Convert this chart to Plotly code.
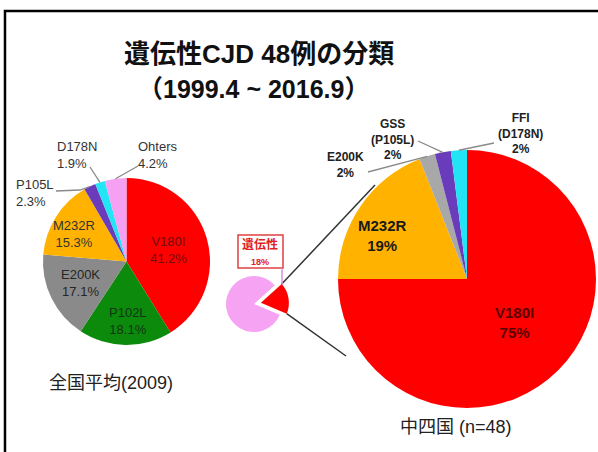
import math
import plotly.graph_objects as go

W, H = 598, 452

# 全国平均(2009)
nat_labels = ["V180I", "P102L", "E200K", "M232R", "P105L", "D178N", "Ohters"]
nat_values = [41.2, 18.1, 17.1, 15.3, 2.3, 1.9, 4.2]
nat_colors = ["#ff0000", "#0b8a0b", "#8a8a8a", "#ffb300", "#6a3cbc", "#22e4f4", "#f5a0f2"]

# 中四国 (n=48)
reg_labels = ["V180I", "M232R", "E200K", "GSS<br>(P105L)", "FFI<br>(D178N)"]
reg_values = [75, 19, 2, 2, 2]
reg_colors = ["#ff0000", "#ffb300", "#a8a8a8", "#6a3cbc", "#22e4f4"]

# share of hereditary cases
her_labels = ["遺伝性", "その他"]
her_values = [18, 82]
her_colors = ["#ff0000", "#f5a3f2"]

FONT = "Liberation Sans, Arial, Noto Sans CJK JP, sans-serif"


def px(x):
    return x / W


def py(y):
    return 1 - y / H


def box(cx, cy, r):
    return dict(x=[px(cx - r), px(cx + r)], y=[py(cy + r), py(cy - r)])


def edge(cx, cy, r, values, i, rot=0):
    # point on the rim in the middle of slice i (clockwise from 12 o'clock)
    tot = sum(values)
    a = rot + 360 * (sum(values[:i]) + values[i] / 2) / tot
    t = math.radians(a)
    return cx + r * math.sin(t), cy - r * math.cos(t)


L = (126.5, 261.5, 83.5)
R = (467, 279, 129)
S = (254, 304, 28)
pull = 0.25
srot = 48

fig = go.Figure()
fig.add_trace(go.Pie(labels=nat_labels, values=nat_values, sort=False, direction="clockwise",
                     rotation=0, marker=dict(colors=nat_colors), textinfo="none",
                     hoverinfo="skip", domain=box(*L)))
fig.add_trace(go.Pie(labels=reg_labels, values=reg_values, sort=False, direction="clockwise",
                     rotation=0, marker=dict(colors=reg_colors), textinfo="none",
                     hoverinfo="skip", domain=box(*R)))
fig.add_trace(go.Pie(labels=her_labels, values=her_values, sort=False, direction="clockwise",
                     rotation=srot, pull=[pull, 0], marker=dict(colors=her_colors),
                     textinfo="none", hoverinfo="skip",
                     domain=box(S[0], S[1], S[2] * (1 + pull))))

ann = []


def text(x, y, s, size=12, color="#333", bold=False, align="center"):
    if bold:
        s = "<b>" + s + "</b>"
    ann.append(dict(x=px(x), y=py(y), xref="paper", yref="paper", text=s, showarrow=False,
                    xanchor="center", yanchor="middle", align=align,
                    font=dict(size=size, color=color, family=FONT)))


def pct(v, d=1):
    return f"{v:.{d}f}%"


# left pie labels
text(168, 250, nat_labels[0] + "<br>" + pct(nat_values[0]), 13, "#6e0c0c")
text(128, 321, nat_labels[1] + "<br>" + pct(nat_values[1]), 13, "#143514")
text(80, 283, nat_labels[2] + "<br>" + pct(nat_values[2]), 13, "#262626")
text(74, 234, nat_labels[3] + "<br>" + pct(nat_values[3]), 13, "#333")
text(35, 193, nat_labels[4] + "<br>" + pct(nat_values[4]), 13, "#333", align="left")
text(77, 155, nat_labels[5] + "<br>" + pct(nat_values[5]), 13, "#333", align="left")
text(158, 155, nat_labels[6] + "<br>" + pct(nat_values[6]), 13, "#333", align="left")

# right pie labels
text(514, 322, reg_labels[0] + "<br>" + pct(reg_values[0], 0), 15, "#5a0000", bold=True)
text(382, 235, reg_labels[1] + "<br>" + pct(reg_values[1], 0), 15, "#1a1a1a", bold=True)
text(346, 165, reg_labels[2] + "<br>" + pct(reg_values[2], 0), 12, "#222", bold=True)
text(392, 139, reg_labels[3] + "<br>" + pct(reg_values[3], 0), 12, "#222", bold=True)
text(520, 133, reg_labels[4] + "<br>" + pct(reg_values[4], 0), 12, "#222", bold=True)

# small pie label box
text(260, 252, "<span style='font-size:12px'>" + her_labels[0] + "</span><br>"
     "<span style='font-size:9px'>" + pct(her_values[0], 0) + "</span>", 12, "#e02020",
     bold=True)

# titles
text(259, 54, "遺伝性CJD 48例の分類", 26, "#111", bold=True)
text(253, 89, "（1999.4 ~ 2016.9）", 25, "#111", bold=True)
text(111, 383, "全国平均(2009)", 18, "#222")
text(456, 427, "中四国 (n=48)", 18, "#222")

shapes = []


def seg(pts, color="#8a8a8a", width=1.3):
    path = "M " + " L ".join(f"{px(x):.5f},{py(y):.5f}" for x, y in pts)
    shapes.append(dict(type="path", path=path, xref="paper", yref="paper",
                       line=dict(color=color, width=width)))


# leader lines, left pie
seg([(56, 191), (80, 190), edge(*L, nat_values, 4)])
seg([(90, 167), edge(*L, nat_values, 5)])
seg([(138, 166), edge(*L, nat_values, 6)])
# leader lines, right pie
seg([(368, 172), edge(*R, reg_values, 2)])
seg([(418, 141), edge(*R, reg_values, 3)])
seg([(494, 143), edge(*R, reg_values, 4)])

# pulled wedge corners of the small pie
a0 = srot
a1 = srot + 360 * her_values[0] / sum(her_values)
am = math.radians((a0 + a1) / 2)
wcx = S[0] + pull * S[2] * math.sin(am)
wcy = S[1] - pull * S[2] * math.cos(am)
top = (wcx + S[2] * math.sin(math.radians(a0)), wcy - S[2] * math.cos(math.radians(a0)))
bot = (wcx + S[2] * math.sin(math.radians(a1)), wcy - S[2] * math.cos(math.radians(a1)))
seg([top, (375, 185)], "#333", 1.5)
seg([bot, (346, 356)], "#333", 1.5)

# label box for the small pie
shapes.append(dict(type="rect", xref="paper", yref="paper", x0=px(238), x1=px(283),
                   y0=py(268), y1=py(235), line=dict(color="#e04040", width=1.5)))
seg([(282, 268), (282, top[1])], "#d890e0", 1.5)

# slide frame
seg([(5, H + 5), (5, 11), (W + 5, 11)], "#000", 2.5)

fig.update_layout(width=W, height=H, margin=dict(l=0, r=0, t=0, b=0),
                  paper_bgcolor="white", plot_bgcolor="white", showlegend=False,
                  annotations=ann, shapes=shapes, font=dict(family=FONT))
fig.write_html("out.html", config={"displayModeBar": False},
               post_script="document.body.style.margin='0';")
